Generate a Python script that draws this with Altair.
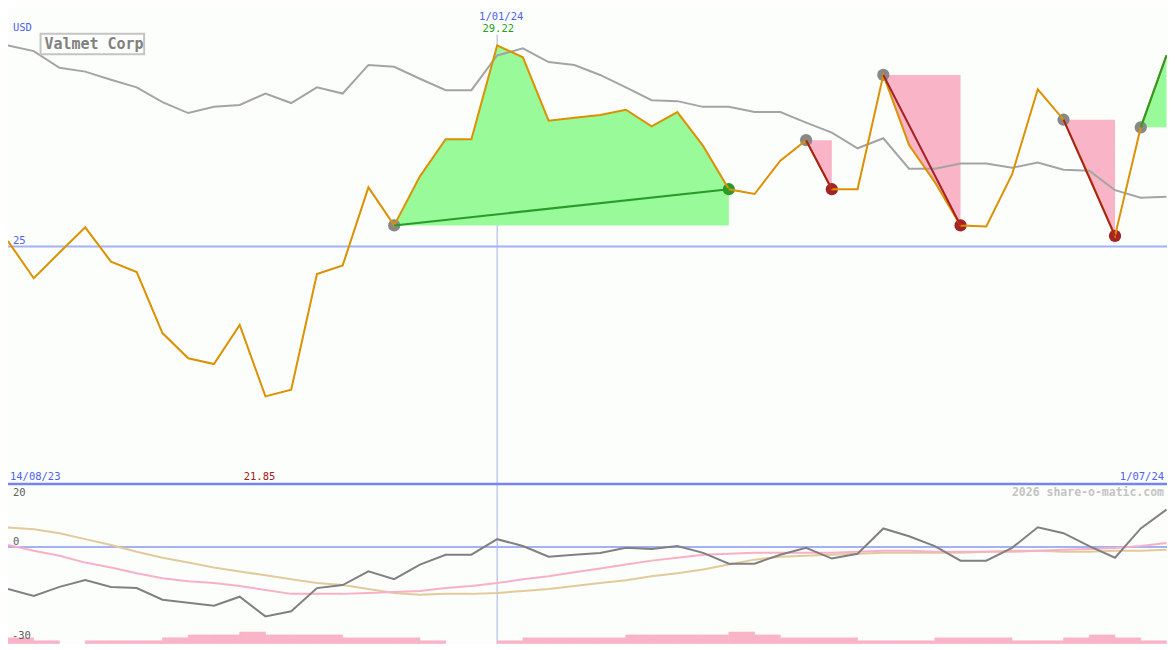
import altair as alt
import pandas as pd

FONT = "DejaVu Sans Mono"
W, H = 1160, 636
SX, SY = W / 1175, H / 650

company = "Valmet Corp"
currency = "USD"
credit = "2026 share-o-matic.com"
start_date = "14/08/23"
end_date = "1/07/24"
marker_date = "1/01/24"
marker_index = 19
ref_level = 25

# weekly close price (USD)
price = [25.11, 24.33, 24.87, 25.40, 24.68, 24.46, 23.18, 22.65, 22.53, 23.35,
         21.85, 21.99, 24.42, 24.60, 26.24, 25.44, 26.47, 27.25, 27.25, 29.22,
         28.97, 27.64, 27.70, 27.76, 27.87, 27.52, 27.82, 27.11, 26.20, 26.10,
         26.80, 27.23, 26.20, 26.20, 28.60, 27.13, 26.35, 25.44, 25.42, 26.51,
         28.30, 27.66, 26.47, 25.22, 27.50, 29.01]
# comparison line (grey)
compare = [29.22, 29.10, 28.75, 28.67, 28.50, 28.34, 28.03, 27.80, 27.93, 27.97,
           28.21, 28.01, 28.34, 28.21, 28.81, 28.77, 28.52, 28.28, 28.28, 29.01,
           29.16, 28.87, 28.81, 28.60, 28.34, 28.07, 28.05, 27.93, 27.93, 27.82,
           27.82, 27.60, 27.39, 27.06, 27.27, 26.63, 26.63, 26.74, 26.74, 26.65,
           26.76, 26.61, 26.59, 26.18, 26.02, 26.04]
# lower panel oscillators
osc_dark = [-14.1, -16.4, -13.4, -11.1, -13.4, -13.8, -17.7, -18.7, -19.7, -16.7,
            -23.3, -21.6, -13.8, -12.8, -8.2, -10.8, -5.9, -2.6, -2.6, 2.6,
            0.3, -3.3, -2.6, -2.0, -0.3, -0.7, 0.3, -2.0, -5.6, -5.6,
            -2.6, -0.3, -3.9, -2.3, 6.2, 3.6, 0.3, -4.6, -4.6, -0.3,
            6.6, 4.6, 0.3, -3.6, 6.2, 12.5]
osc_pink = [0.66, -1.31, -2.95, -5.25, -6.89, -8.85, -10.49, -11.48, -12.13, -13.11,
            -14.43, -15.74, -15.74, -15.74, -15.41, -15.08, -14.75, -13.77, -13.11, -12.13,
            -10.82, -9.84, -8.52, -7.21, -5.90, -4.59, -3.61, -2.62, -2.30, -1.97,
            -1.97, -1.97, -1.97, -1.64, -1.31, -1.31, -1.64, -1.64, -1.64, -1.64,
            -1.31, -0.98, -0.66, -0.33, 0.33, 1.31]
osc_tan = [6.56, 5.90, 4.59, 2.62, 0.66, -1.64, -3.61, -5.25, -6.89, -8.20,
           -9.51, -10.82, -12.13, -12.79, -14.10, -15.41, -16.07, -15.74, -15.74, -15.41,
           -14.75, -14.10, -13.11, -12.13, -11.15, -9.84, -8.85, -7.54, -5.90, -4.26,
           -3.28, -2.95, -2.62, -2.30, -1.97, -1.97, -1.97, -1.97, -1.64, -1.31,
           -1.31, -1.64, -1.64, -1.31, -1.31, -0.98]
# relative weekly volume
volume = [2, 1, 0, 1, 1, 1, 2, 3, 3, 4, 3, 3, 3, 2, 2, 2, 1, 0, 0, 1,
          2, 2, 2, 2, 3, 3, 3, 3, 4, 3, 2, 2, 2, 1, 1, 1, 2, 2, 2, 1,
          1, 2, 3, 2, 1]
# trade signals: start index, end index, direction
sig_start = [15, 31, 34, 41, 44]
sig_end = [28, 32, 37, 43, 45]
sig_dir = ["up", "down", "down", "down", "up"]

N = len(price)
XR = (N - 1) * 26.1 * SX
px = lambda v: v * SX
py = lambda v: v * SY

XS = alt.Scale(domain=[0, N - 1], range=[0, XR])
PS = alt.Scale(domain=[min(price), max(price)], range=[py(397), py(38)], zero=False, nice=False)
LS = alt.Scale(domain=[-30, 20], range=[py(642.5), py(490)], zero=False, nice=False)
VS = alt.Scale(domain=[0, 4], range=[py(650), py(638)], zero=False, nice=False)


def X(f):
    return alt.X(f, type="quantitative", scale=XS, axis=None)


def YP(f):
    return alt.Y(f, type="quantitative", scale=PS, axis=None)


def YL(f):
    return alt.Y(f, type="quantitative", scale=LS, axis=None)


idx = list(range(N))
main = pd.DataFrame({"i": idx, "p": price, "c": compare, "d": osc_dark,
                     "pk": osc_pink, "t": osc_tan})
vol = pd.DataFrame({"i": list(range(len(volume))), "v": volume})

fill_rows, trend_rows, dot_rows = [], [], []
for k, (s, e, d) in enumerate(zip(sig_start, sig_end, sig_dir)):
    for j in range(s, e + 1):
        fill_rows.append({"seg": k, "dir": d, "i": j, "p": price[j], "base": price[s]})
    trend_rows.append({"seg": k, "dir": d, "i": s, "p": price[s]})
    trend_rows.append({"seg": k, "dir": d, "i": e, "p": price[e]})
    dot_rows.append({"kind": "start", "i": s, "p": price[s]})
    if e < N - 1:
        dot_rows.append({"kind": d, "i": e, "p": price[e]})
fills = pd.DataFrame(fill_rows)
trends = pd.DataFrame(trend_rows)
dots = pd.DataFrame(dot_rows)

one = pd.DataFrame({"z": [0]})
layers = []

PINK = "#f9b4c8"

# marker vertical rule
layers.append(alt.Chart(pd.DataFrame({"i": [marker_index]})).mark_rule(
    color="#a8b0e0", strokeWidth=1).encode(x=X("i"), y=alt.value(py(27)), y2=alt.value(H)))
# reference level line
layers.append(alt.Chart(pd.DataFrame({"v": [ref_level]})).mark_rule(
    color="#a4b2f4", strokeWidth=2).encode(y=YP("v"), x=alt.value(0), x2=alt.value(W)))
# signal fills
layers.append(alt.Chart(fills[fills["dir"] == "up"]).mark_area(
    color="#98fa98", orient="vertical", opacity=1).encode(
    x=X("i"), y=YP("p"), y2="base:Q", detail="seg:N"))
layers.append(alt.Chart(fills[fills["dir"] == "down"]).mark_area(
    color=PINK, orient="vertical", opacity=1).encode(
    x=X("i"), y=YP("p"), y2="base:Q", detail="seg:N"))
# dots
dot_colors = alt.Scale(domain=["start", "up", "down"], range=["#888888", "#2a9a2a", "#a52222"])
layers.append(alt.Chart(dots).mark_circle(size=150, opacity=1).encode(
    x=X("i"), y=YP("p"), color=alt.Color("kind:N", scale=dot_colors, legend=None)))
# comparison line
layers.append(alt.Chart(main).mark_line(color="#a4a4a4", strokeWidth=2).encode(
    x=X("i"), y=YP("c")))
# price line
layers.append(alt.Chart(main).mark_line(color="#dc9100", strokeWidth=2).encode(
    x=X("i"), y=YP("p")))
# trend lines
layers.append(alt.Chart(trends).mark_line(strokeWidth=2).encode(
    x=X("i"), y=YP("p"), detail="seg:N",
    color=alt.Color("dir:N", scale=alt.Scale(domain=["up", "down"], range=["#2a9a2a", "#a52222"]),
                    legend=None)))

# lower panel
layers.append(alt.Chart(pd.DataFrame({"v": [0]})).mark_rule(
    color="#a4b2f4", strokeWidth=2).encode(y=YL("v"), x=alt.value(0), x2=alt.value(W)))
layers.append(alt.Chart(main).mark_line(color="#e2ca9a", strokeWidth=2).encode(x=X("i"), y=YL("t")))
layers.append(alt.Chart(main).mark_line(color="#f8b0c8", strokeWidth=2).encode(x=X("i"), y=YL("pk")))
layers.append(alt.Chart(main).mark_line(color="#808080", strokeWidth=2).encode(x=X("i"), y=YL("d")))
layers.append(alt.Chart(vol).transform_filter("datum.v > 0").transform_calculate(
    i2="datum.i + 1", z="0").mark_rect(
    color=PINK, stroke=PINK, strokeWidth=0.6).encode(
    x=X("i"), x2="i2:Q",
    y=alt.Y("v:Q", scale=VS, axis=None), y2="z:Q"))
# panel separator
layers.append(alt.Chart(one).mark_rule(color="#7585e8", strokeWidth=2.5).encode(
    y=alt.value(py(486.5)), x=alt.value(0), x2=alt.value(W)))

# title box
layers.append(alt.Chart(one).mark_rect(fillOpacity=0, stroke="#c4c4c4", strokeWidth=2).encode(
    x=alt.value(px(33)), x2=alt.value(px(138)), y=alt.value(py(26)), y2=alt.value(py(47))))


def label(text, X0, Y0, color, size=10.5, align="left", weight="normal"):
    return alt.Chart(pd.DataFrame({"t": [text]})).mark_text(
        align=align, baseline="middle", color=color, fontSize=size, font=FONT,
        fontWeight=weight).encode(x=alt.value(px(X0)), y=alt.value(py(Y0)), text="t:N")


BLUE = "#5060f0"
layers += [
    label(company, 37, 37, "#808080", size=15, weight="bold"),
    label(currency, 5, 20, BLUE),
    label(marker_date, 500, 9, BLUE, align="center"),
    label(f"{max(price):.2f}", 497, 21, "#22a022", align="center"),
    label(str(ref_level), 5, 238, BLUE),
    label(start_date, 2, 479, BLUE),
    label(f"{min(price):.2f}", 255, 479, "#a02020", align="center"),
    label(end_date, 1172, 479, BLUE, align="right"),
    label(credit, 1172, 496, "#c4c4c4", size=11.5, align="right", weight="bold"),
    label("20", 5, 496, "#606060"),
    label("0", 5, 546, "#606060"),
    label("-30", 4, 642, "#606060"),
]

chart = alt.layer(*layers).resolve_scale(y="independent", color="independent").properties(
    width=W, height=H, padding=0, autosize=alt.AutoSizeParams(type="none"),
    background="#fcfefc"
).configure_view(stroke=None)

chart.save("out.html", embed_options={"renderer": "svg", "actions": False})
